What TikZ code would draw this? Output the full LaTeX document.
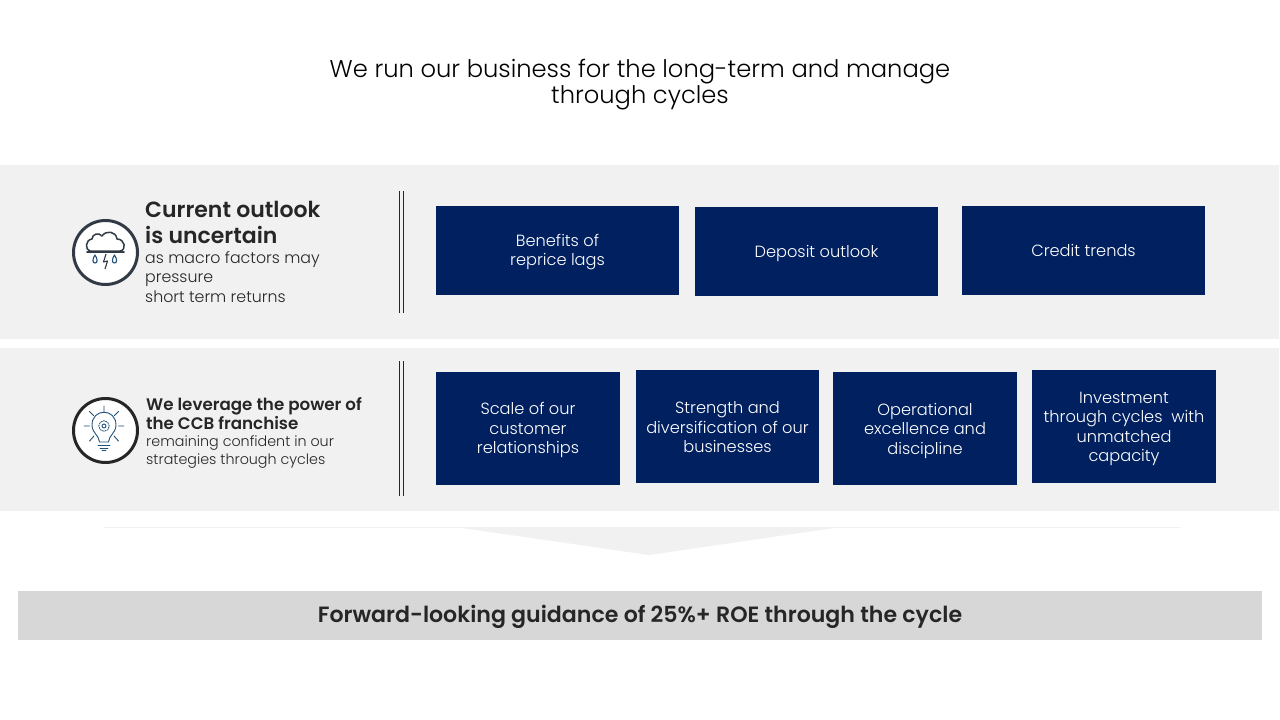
\documentclass[tikz,border=0pt]{standalone}
\usepackage{fontspec}
\setmainfont{Poppins Light}[BoldFont={Poppins SemiBold}]
\newcommand{\fs}[2]{\fontsize{#1}{#2}\selectfont}
\definecolor{navy}{HTML}{002060}
\definecolor{band}{HTML}{F1F1F1}
\definecolor{bar}{HTML}{D7D7D7}
\definecolor{ink}{HTML}{262626}
\definecolor{iconc}{HTML}{323A45}
\definecolor{iconb}{HTML}{1F4E79}
\tikzset{
  navybox/.style={fill=navy,inner sep=0pt},
  boxtext/.style={text=white,align=center,inner sep=0pt,font=\fs{16.2}{19.5}},
  lefttxt/.style={anchor=north west,align=left,inner sep=0pt,text=ink},
  iconring/.style={draw=#1,line width=3pt,fill=white,circle,inner sep=0pt,minimum size=64pt},
  iconline/.style={draw=iconb,line width=0.9pt,line cap=round,line join=round},
}
\begin{document}
\begin{tikzpicture}[x=1pt,y=-1pt]
\useasboundingbox (0,0) rectangle (1280,720);
\fill[white] (0,0) rectangle (1280,720);
\node[align=center,inner sep=0pt,text=black,font=\fs{24.2}{26}] (title) at (640,84.5) {We run our business for the long-term and manage\\through cycles};
\fill[band] (0,165) rectangle (1279,339);
\fill[band] (0,348) rectangle (1279,511);
% dividers
\coordinate (d1t) at (399.7,191); \coordinate (d1b) at (399.7,313);
\coordinate (d2t) at (403.5,191); \coordinate (d2b) at (403.5,313);
\coordinate (d3t) at (399.7,361); \coordinate (d3b) at (399.7,496);
\coordinate (d4t) at (403.5,361); \coordinate (d4b) at (403.5,496);
\draw[ink,line width=0.9pt] (d1t)--(d1b) (d2t)--(d2b) (d3t)--(d3b) (d4t)--(d4b);
% row 1 boxes
\node[navybox,minimum width=243pt,minimum height=89pt] (b1) at (557.5,250.5) {};
\node[boxtext] (b1t) at (557.5,252) {Benefits of\\reprice lags};
\node[navybox,minimum width=243pt,minimum height=89pt] (b2) at (816.5,251.5) {};
\node[boxtext] (b2t) at (816.5,253.5) {Deposit outlook};
\node[navybox,minimum width=243pt,minimum height=89pt] (b3) at (1083.5,250.5) {};
\node[boxtext] (b3t) at (1083.5,250.5) {Credit trends};
% row 2 boxes
\node[navybox,minimum width=184pt,minimum height=113pt] (c1) at (528,428.5) {};
\node[boxtext] (c1t) at (528,430.2) {Scale of our\\customer\\relationships};
\node[navybox,minimum width=183pt,minimum height=113pt] (c2) at (727.5,426.5) {};
\node[boxtext] (c2t) at (727.5,427.5) {Strength and\\diversification of our\\businesses};
\node[navybox,minimum width=184pt,minimum height=113pt] (c3) at (925,428.5) {};
\node[boxtext] (c3t) at (925,430.5) {Operational\\excellence and\\discipline};
\node[navybox,minimum width=184pt,minimum height=113pt] (c4) at (1124,426.5) {};
\node[boxtext] (c4t) at (1124,429) {Investment\\through cycles\ \ with\\unmatched\\capacity};
% left text
\node[lefttxt,font=\fs{22}{26}] (h1) at (145,201) {\textbf{Current outlook}\\\textbf{is uncertain}};
\node[lefttxt,font=\fs{15.8}{19.5}] (s1) at (145,251) {as macro factors may\\pressure\\short term returns};
\node[lefttxt,font=\fs{16.7}{19}] (h2) at (146,397) {\textbf{We leverage the power of}\\\textbf{the CCB franchise}};
\node[lefttxt,font=\fs{14.3}{17.5}] (s2) at (146,435.5) {remaining confident in our\\strategies through cycles};
% icons
\node[iconring=iconc] (i1) at (105.5,252.5) {};
\draw[iconc,line width=1.5pt,line join=round,line cap=round] (90,251)
  .. controls (85,250) and (85,240) .. (92,239)
  .. controls (92,234) and (99,232) .. (102,236)
  .. controls (106,230) and (116,231) .. (117,239)
  .. controls (125,239) and (127,250) .. (120,251) -- cycle;
\draw[iconc,line width=1.6pt,line cap=round] (87,252)--(124,252);
\foreach \q in {95,114.5}{
  \draw[iconb,line width=1.1pt,line join=round] (\q,255) .. controls (\q-3,259.5) and (\q-2.5,263) .. (\q,263) .. controls (\q+2.5,263) and (\q+3,259.5) .. (\q,255) -- cycle;
}
\draw[iconc,line width=1.1pt,line join=round] (106,254)--(103.5,262)--(107.5,261)--(105,269);
\node[iconring=ink] (i2) at (105.5,430.5) {};
\draw[iconline] (99.5,442) .. controls (99,435) and (92,433) .. (92,425) .. controls (92,408) and (116,408) .. (116,425) .. controls (116,433) and (109,435) .. (108.5,442) -- cycle;
\draw[iconline] (98,445)--(110,445) (100,448)--(108,448) (102,450.5)--(106,450.5);
\draw[iconline] (104,426) circle (2pt);
\draw[iconline,line width=0.8pt,dash pattern=on 1.4pt off 1.1pt] (104,426) circle (5.3pt);
\draw[iconline] (104,406)--(104,412)
 (89.5,411.5)--(93.5,415.5) (118.5,411.5)--(114.5,415.5)
 (84,426)--(89.5,426) (118.5,426)--(124,426)
 (89.5,441)--(94,436) (118.5,441)--(114,436);
% arrow
\coordinate (a1) at (104,527.5); \coordinate (a2) at (1180,527.5);
\draw[band,line width=0.8pt] (a1)--(a2);
\coordinate (t1) at (462,528); \coordinate (t2) at (834,528); \coordinate (t3) at (649,555);
\fill[band] (t1)--(t2)--(t3)--cycle;
% bottom bar
\node[fill=bar,minimum width=1244pt,minimum height=49pt,inner sep=0pt] (g) at (640,615.5) {};
\node[text=ink,inner sep=0pt,font=\fs{22.1}{26}\bfseries] (gt) at (640,617) {Forward-looking guidance of 25\%+ ROE through the cycle};
\end{tikzpicture}
\end{document}
